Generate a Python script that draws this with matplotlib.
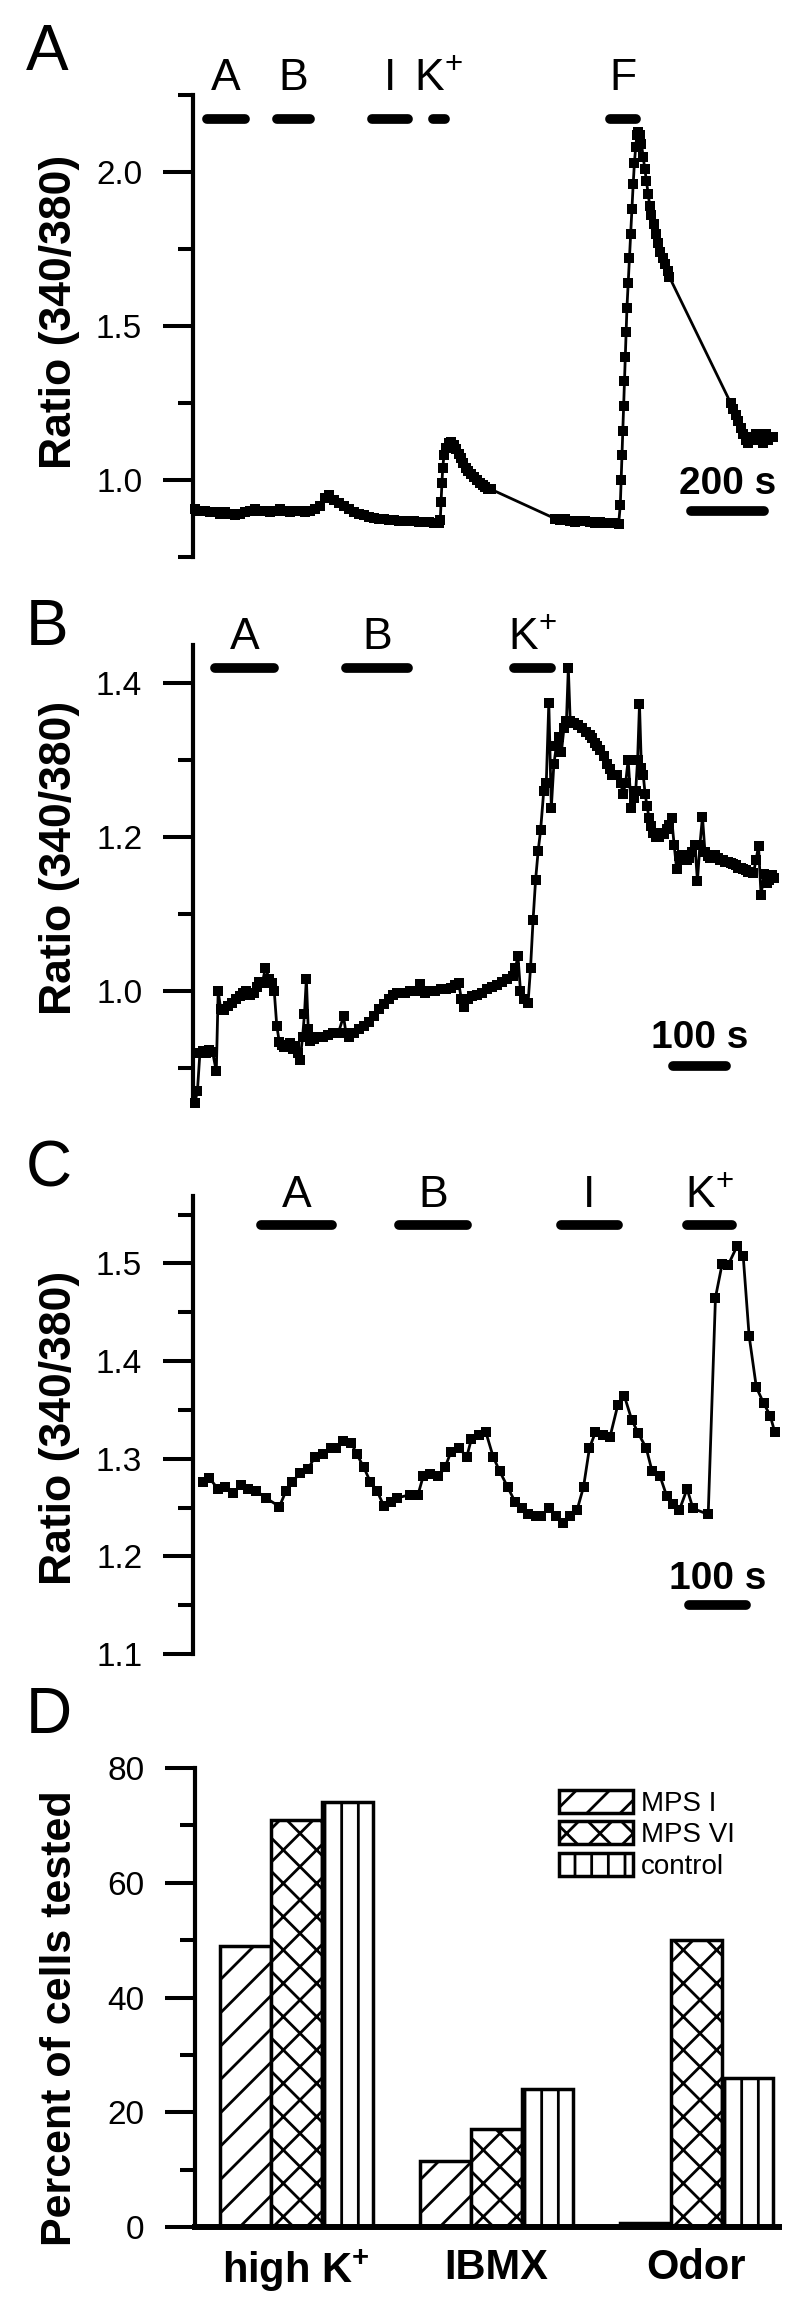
import matplotlib.pyplot as plt
from matplotlib.patches import Patch
from matplotlib.ticker import MultipleLocator

plt.rcParams['font.family'] = ['Liberation Sans', 'DejaVu Sans']
plt.rcParams['mathtext.fontset'] = 'custom'
plt.rcParams['mathtext.rm'] = 'Liberation Sans'
plt.rcParams['mathtext.default'] = 'regular'
plt.rcParams['hatch.linewidth'] = 2.0

# ---- data ----
# panel A: time (s), ratio 340/380
trace_a = [(5, 0.905), (17, 0.90), (29, 0.90), (41, 0.895), (53, 0.895), (65, 0.89), (77, 0.895),
           (89, 0.89), (101, 0.885), (113, 0.89), (125, 0.895), (137, 0.90), (149, 0.905), (161, 0.90),
           (173, 0.90), (185, 0.895), (197, 0.90), (209, 0.905), (221, 0.90), (233, 0.895), (245, 0.90),
           (257, 0.90), (269, 0.895), (281, 0.90), (293, 0.905), (305, 0.915), (317, 0.94), (329, 0.95),
           (341, 0.935), (353, 0.925), (365, 0.915), (377, 0.905), (389, 0.895), (401, 0.89), (413, 0.885),
           (425, 0.88), (437, 0.878), (449, 0.875), (461, 0.872), (473, 0.87), (485, 0.87), (497, 0.868),
           (509, 0.868), (521, 0.866), (533, 0.866), (545, 0.865), (557, 0.865), (569, 0.864), (581, 0.862),
           (592, 0.86), (596, 0.87), (598, 0.93), (600, 0.99), (602, 1.04), (605, 1.08), (610, 1.105),
           (616, 1.12), (622, 1.125), (628, 1.115), (634, 1.10), (640, 1.085), (646, 1.07), (652, 1.055),
           (658, 1.04), (664, 1.03), (670, 1.02), (677, 1.01), (684, 1.0), (691, 0.99), (698, 0.985),
           (705, 0.978), (712, 0.972), (718, 0.97), (872, 0.875), (884, 0.87), (896, 0.872), (908, 0.868),
           (920, 0.865), (932, 0.866), (944, 0.868), (956, 0.864), (968, 0.862), (980, 0.864), (992, 0.862),
           (1004, 0.86), (1016, 0.86), (1026, 0.858), (1030, 0.92), (1032, 1.0), (1034, 1.08), (1036, 1.16),
           (1038, 1.24), (1040, 1.32), (1042, 1.40), (1044, 1.48), (1046, 1.56), (1049, 1.64), (1052, 1.72),
           (1055, 1.80), (1058, 1.88), (1061, 1.96), (1064, 2.03), (1067, 2.08), (1070, 2.12), (1073, 2.13),
           (1077, 2.12), (1081, 2.09), (1085, 2.05), (1089, 2.01), (1093, 1.97), (1097, 1.93), (1101, 1.89),
           (1105, 1.86), (1110, 1.83), (1115, 1.80), (1120, 1.77), (1126, 1.74), (1132, 1.72), (1138, 1.70),
           (1144, 1.68), (1148, 1.66), (1296, 1.25), (1302, 1.23), (1308, 1.21), (1314, 1.19), (1320, 1.17),
           (1326, 1.15), (1332, 1.13), (1338, 1.12), (1344, 1.14), (1350, 1.13), (1356, 1.15), (1362, 1.13),
           (1368, 1.14), (1374, 1.12), (1380, 1.15), (1386, 1.13), (1392, 1.14), (1398, 1.14)]
stim_a = [('A', 22, 137), ('B', 190, 294), ('I', 419, 530), ('K$^{+}$', 566, 619), ('F', 993, 1080)]

# panel B
trace_b = [(3, 0.855), (7, 0.87), (11, 0.92), (16, 0.922), (21, 0.92), (26, 0.923), (31, 0.921), (37, 0.896),
           (40, 1.0), (44, 0.976), (50, 0.975), (56, 0.98), (62, 0.985), (68, 0.99), (74, 0.993), (80, 0.997),
           (84, 1.0), (90, 0.995), (97, 0.998), (101, 1.005), (105, 1.012), (110, 1.01), (115, 1.03),
           (121, 1.016), (126, 1.01), (129, 1.0), (133, 0.955), (137, 0.934), (141, 0.93), (145, 0.927),
           (150, 0.93), (154, 0.932), (158, 0.925), (162, 0.928), (166, 0.92), (170, 0.91), (174, 0.94),
           (177, 0.97), (180, 1.016), (183, 0.95), (186, 0.935), (192, 0.938), (198, 0.94), (206, 0.94),
           (215, 0.943), (223, 0.945), (231, 0.946), (239, 0.967), (243, 0.945), (247, 0.94), (255, 0.945),
           (263, 0.95), (271, 0.955), (280, 0.96), (288, 0.968), (296, 0.976), (304, 0.983), (312, 0.99),
           (318, 0.995), (324, 0.998), (330, 0.998), (337, 0.998), (345, 1.0), (353, 1.0), (361, 1.009),
           (369, 0.998), (377, 1.0), (385, 1.0), (394, 1.002), (402, 1.002), (410, 1.004), (416, 1.008),
           (422, 1.01), (426, 0.99), (430, 0.979), (436, 0.99), (443, 0.993), (451, 0.995), (459, 0.998),
           (467, 1.002), (475, 1.005), (483, 1.008), (491, 1.012), (499, 1.015), (508, 1.02), (512, 1.03),
           (516, 1.045), (520, 1.0), (526, 0.99), (532, 0.984), (536, 1.03), (540, 1.092), (544, 1.144),
           (548, 1.181), (552, 1.209), (557, 1.26), (561, 1.27), (565, 1.374), (569, 1.238), (573, 1.294),
           (577, 1.318), (581, 1.33), (585, 1.31), (589, 1.341), (593, 1.35), (596, 1.419), (599, 1.35),
           (605, 1.348), (611, 1.345), (618, 1.341), (624, 1.336), (630, 1.332), (634, 1.328), (638, 1.322),
           (642, 1.318), (646, 1.313), (652, 1.305), (658, 1.294), (662, 1.288), (666, 1.28), (670, 1.28),
           (674, 1.28), (679, 1.27), (683, 1.256), (687, 1.27), (691, 1.30), (696, 1.238), (700, 1.25),
           (703, 1.26), (706, 1.30), (709, 1.372), (712, 1.29), (715, 1.28), (718, 1.255), (721, 1.24),
           (724, 1.225), (727, 1.214), (731, 1.205), (736, 1.2), (740, 1.2), (744, 1.205), (748, 1.204),
           (752, 1.21), (756, 1.215), (760, 1.224), (764, 1.19), (768, 1.158), (772, 1.175), (776, 1.176),
           (780, 1.17), (784, 1.17), (788, 1.172), (792, 1.18), (797, 1.19), (801, 1.143), (805, 1.19),
           (809, 1.226), (813, 1.18), (817, 1.175), (821, 1.172), (825, 1.175), (829, 1.176), (833, 1.172),
           (837, 1.17), (841, 1.17), (845, 1.168), (850, 1.168), (854, 1.166), (858, 1.165), (862, 1.163),
           (866, 1.16), (870, 1.16), (874, 1.158), (878, 1.157), (882, 1.155), (886, 1.155), (890, 1.153),
           (894, 1.17), (898, 1.188), (902, 1.125), (907, 1.152), (911, 1.14), (915, 1.144), (919, 1.15),
           (923, 1.146)]
stim_b = [('A', 27, 137), ('B', 235, 349), ('K$^{+}$', 502, 576)]

# panel C
trace_c = [(15, 1.276), (25, 1.28), (38, 1.269), (49, 1.271), (61, 1.265), (73, 1.273), (84, 1.269),
           (96, 1.267), (110, 1.26), (131, 1.251), (141, 1.267), (150, 1.276), (162, 1.285), (174, 1.289),
           (185, 1.302), (197, 1.305), (209, 1.311), (217, 1.311), (228, 1.318), (240, 1.316), (248, 1.305),
           (259, 1.291), (269, 1.276), (279, 1.267), (289, 1.252), (300, 1.256), (310, 1.26), (329, 1.263),
           (341, 1.263), (349, 1.282), (360, 1.284), (372, 1.282), (382, 1.291), (391, 1.307), (403, 1.311),
           (415, 1.302), (422, 1.32), (434, 1.324), (444, 1.327), (455, 1.302), (465, 1.287), (477, 1.271),
           (488, 1.256), (499, 1.249), (508, 1.243), (520, 1.241), (527, 1.241), (539, 1.249), (551, 1.241),
           (561, 1.234), (572, 1.241), (582, 1.247), (592, 1.271), (601, 1.311), (610, 1.327), (621, 1.324),
           (632, 1.322), (644, 1.355), (654, 1.364), (665, 1.34), (675, 1.326), (687, 1.311), (696, 1.287),
           (708, 1.282), (718, 1.262), (727, 1.254), (737, 1.247), (749, 1.269), (758, 1.249), (781, 1.243),
           (792, 1.465), (802, 1.499), (811, 1.498), (825, 1.518), (834, 1.508), (843, 1.426), (854, 1.373),
           (865, 1.357), (875, 1.344), (882, 1.327)]
stim_c = [('A', 95, 218), ('B', 305, 423), ('I', 550, 652), ('K$^{+}$', 741, 824)]

# panel D: percent of cells responding
groups = ['high K$^{+}$', 'IBMX', 'Odor']
mps1 = [49, 11.5, 0.7]
mps6 = [71, 17, 50]
control = [74, 24, 26]

W, H = 800, 2297


def box(left, top, right, bottom):
    return [left / W, 1 - bottom / H, (right - left) / W, (bottom - top) / H]


def style_axis(ax, major, minor, ylabel, label_y):
    for s in ['top', 'right', 'bottom']:
        ax.spines[s].set_visible(False)
    ax.spines['left'].set_linewidth(3)
    ax.yaxis.set_major_locator(MultipleLocator(major))
    ax.yaxis.set_minor_locator(MultipleLocator(minor))
    ax.tick_params(axis='y', which='major', direction='out', length=21.6, width=2.9, pad=15, labelsize=24)
    ax.tick_params(axis='y', which='minor', direction='out', length=11, width=2.9)
    ax.set_ylabel(ylabel, fontsize=32, fontweight='bold')
    ax.yaxis.set_label_coords(-0.19, label_y)
    ax.patch.set_alpha(0)


def round_bar(ax, x0, x1, y, lw=7):
    # the visible bar (caps included) spans x0..x1
    xmin, xmax = ax.get_xlim()
    per_px = (xmax - xmin) / (ax.get_position().width * W)
    inset = lw * 100 / 72 / 2 * per_px
    ax.plot([x0 + inset, x1 - inset], [y, y], color='k', lw=lw, solid_capstyle='round', clip_on=False)


def trace_panel(ax, trace, stims, bar_y, lab_y, scale, scale_y, ms):
    t, v = zip(*trace)
    ax.plot(t, v, color='k', lw=2, marker='s', ms=ms, mew=0, clip_on=False)
    for name, x0, x1 in stims:
        round_bar(ax, x0, x1, bar_y)
        ax.text((x0 + x1) / 2, lab_y, name, fontsize=32, ha='center', va='baseline')
    s0, s1 = scale
    round_bar(ax, s0, s1, scale_y)
    ax.set_xticks([])


fig = plt.figure(figsize=(8, 22.97), dpi=100)

# ---- A ----
axA = fig.add_axes(box(193, 95, 790, 557))
axA.set_xlim(0, 1439)
axA.set_ylim(0.75, 2.25)
style_axis(axA, 0.5, 0.25, 'Ratio (340/380)', 0.53)
trace_panel(axA, trace_a, stim_a, 2.172, 2.265, (1188, 1388), 0.90, 7)
axA.text(1288, 0.955, '200 s', fontsize=28, fontweight='bold', ha='center', va='baseline')

# ---- B ----
axB = fig.add_axes(box(193, 645, 790, 1105))
axB.set_xlim(0, 948)
axB.set_ylim(0.852, 1.449)
style_axis(axB, 0.2, 0.1, 'Ratio (340/380)', 0.537)
trace_panel(axB, trace_b, stim_b, 1.4195, 1.444, (754, 854), 0.902, 6.5)
axB.text(804, 0.926, '100 s', fontsize=28, fontweight='bold', ha='center', va='baseline')

# ---- C ----
axC = fig.add_axes(box(193, 1196, 790, 1654))
axC.set_xlim(0, 905)
axC.set_ylim(1.1, 1.569)
style_axis(axC, 0.1, 0.05, 'Ratio (340/380)', 0.493)
trace_panel(axC, trace_c, stim_c, 1.539, 1.558, (745, 845), 1.15, 7)
axC.text(795, 1.167, '100 s', fontsize=28, fontweight='bold', ha='center', va='baseline')

# ---- D ----
axD = fig.add_axes(box(195, 1768, 779, 2227))
axD.set_xlim(-0.505, 2.415)
axD.set_ylim(0, 80)
width = 0.255
pos = range(len(groups))
kw = dict(width=width, facecolor='white', edgecolor='black', linewidth=2.5)
axD.bar([p - width for p in pos], mps1, hatch='/', **kw)
axD.bar(list(pos), mps6, hatch='x', **kw)
axD.bar([p + width for p in pos], control, hatch='|', **kw)
for s in ['top', 'right']:
    axD.spines[s].set_visible(False)
axD.spines['left'].set_linewidth(3)
axD.spines['bottom'].set_linewidth(4.3)
axD.yaxis.set_major_locator(MultipleLocator(20))
axD.yaxis.set_minor_locator(MultipleLocator(10))
axD.tick_params(axis='y', which='major', direction='out', length=21.6, width=2.9, pad=15, labelsize=24)
axD.tick_params(axis='y', which='minor', direction='out', length=11, width=2.9)
axD.set_xticks(list(pos))
axD.set_xticklabels(groups, fontsize=30, fontweight='bold')
axD.tick_params(axis='x', length=0, pad=15)
axD.set_ylabel('Percent of cells tested', fontsize=31, fontweight='bold')
axD.yaxis.set_label_coords(-0.197, 0.455)
handles = [Patch(facecolor='white', edgecolor='black', hatch=h, linewidth=2.5) for h in ['/', 'x', '|']]
axD.legend(handles, ['MPS I', 'MPS VI', 'control'], loc='upper left',
           bbox_to_anchor=(559 / W, 1 - 1790 / H), bbox_transform=fig.transFigure,
           frameon=False, fontsize=20, handlelength=2.65, handleheight=0.9,
           handletextpad=0.3, labelspacing=0.15, borderpad=0, borderaxespad=0)

# panel letters
for letter, base in [('A', 70), ('B', 645), ('C', 1187), ('D', 1733)]:
    fig.text(26 / W, 1 - base / H, letter, fontsize=46, va='baseline', ha='left')

fig.savefig('out.png', dpi=100)
